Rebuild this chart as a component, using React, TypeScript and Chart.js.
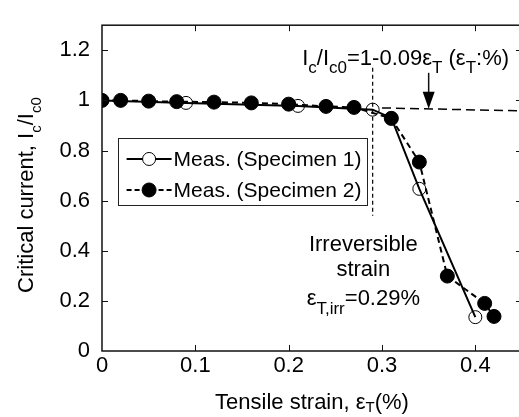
import React, { useEffect, useRef } from "react";
import { Chart, registerables } from "chart.js";
Chart.register(...registerables);

// ---- data ----
const spec1X = [0, 0.09, 0.21, 0.29, 0.31, 0.34, 0.4];
const spec1Y = [1.0, 0.99, 0.978, 0.963, 0.93, 0.647, 0.135];
const spec2X = [0, 0.02, 0.05, 0.08, 0.12, 0.16, 0.2, 0.24, 0.27, 0.31, 0.34, 0.37, 0.41, 0.42];
const spec2Y = [1.0, 1.0, 0.997, 0.995, 0.993, 0.99, 0.985, 0.976, 0.972, 0.928, 0.754, 0.299, 0.19, 0.138];
const fitX = [0.3, 0.45];
const fitY = [0.97, 0.958];
const irrX = [0.29, 0.29];
const irrY = [1.13, 0.54];
const xTicks = [0, 0.1, 0.2, 0.3, 0.4];
const yTicks = [0, 0.2, 0.4, 0.6, 0.8, 1, 1.2];
const seriesLabels = ["Meas. (Specimen 1)", "Meas. (Specimen 2)"];
const arrowX = 0.35;
const arrowTopY = 1.11;
const arrowTipY = 0.967;

const FAMILY = "'Liberation Sans', Arial, sans-serif";
const MAIN = `22px ${FAMILY}`;
const SUB = `15px ${FAMILY}`;
const SUB_BIG = `17px ${FAMILY}`;

type Seg = { t: string; sub?: boolean };

function drawRich(
  ctx: CanvasRenderingContext2D,
  segs: Seg[],
  x: number,
  y: number,
  align: "left" | "center",
  subDy: number,
  mainFont = MAIN,
  subFont = SUB
) {
  const widths = segs.map((s) => {
    ctx.font = s.sub ? subFont : mainFont;
    return ctx.measureText(s.t).width;
  });
  const total = widths.reduce((a, b) => a + b, 0);
  let cx = align === "center" ? x - total / 2 : x;
  ctx.textAlign = "left";
  ctx.textBaseline = "alphabetic";
  segs.forEach((s, i) => {
    ctx.font = s.sub ? subFont : mainFont;
    ctx.fillText(s.t, cx, y + (s.sub ? subDy : 0));
    cx += widths[i];
  });
}

const decorPlugin = {
  id: "decor",
  afterDraw(chart: any) {
    const ctx: CanvasRenderingContext2D = chart.ctx;
    const { left, right, top, bottom } = chart.chartArea;
    const xs = chart.scales.x;
    const ys = chart.scales.y;
    ctx.save();
    ctx.fillStyle = "#000";
    ctx.strokeStyle = "#111";

    // frame
    ctx.lineWidth = 1.5;
    ctx.strokeRect(left, top, right - left, bottom - top);

    // inward ticks
    ctx.lineWidth = 1;
    const tl = 6;
    xTicks.forEach((v) => {
      const px = Math.round(xs.getPixelForValue(v)) + 0.5;
      if (px <= left + 1) return;
      ctx.beginPath();
      ctx.moveTo(px, bottom);
      ctx.lineTo(px, bottom - tl);
      ctx.moveTo(px, top);
      ctx.lineTo(px, top + tl);
      ctx.stroke();
    });
    yTicks.forEach((v) => {
      const py = Math.round(ys.getPixelForValue(v)) + 0.5;
      if (py >= bottom - 1) return;
      ctx.beginPath();
      ctx.moveTo(left, py);
      ctx.lineTo(left + tl, py);
      ctx.moveTo(right, py);
      ctx.lineTo(right - tl, py);
      ctx.stroke();
    });

    // arrow
    const ax = xs.getPixelForValue(arrowX);
    const aTop = ys.getPixelForValue(arrowTopY);
    const aTip = ys.getPixelForValue(arrowTipY);
    ctx.lineWidth = 1.5;
    ctx.beginPath();
    ctx.moveTo(ax, aTop);
    ctx.lineTo(ax, aTip - 14);
    ctx.stroke();
    ctx.beginPath();
    ctx.moveTo(ax - 6, aTip - 17);
    ctx.lineTo(ax + 6, aTip - 17);
    ctx.lineTo(ax, aTip);
    ctx.closePath();
    ctx.fill();

    // formula annotation
    drawRich(
      ctx,
      [
        { t: "I" },
        { t: "c", sub: true },
        { t: "/I" },
        { t: "c0", sub: true },
        { t: "=1-0.09ε" },
        { t: "T", sub: true },
        { t: " (ε" },
        { t: "T", sub: true },
        { t: ":%)" },
      ],
      xs.getPixelForValue(0.2145),
      ys.getPixelForValue(1.142),
      "left",
      8,
      MAIN,
      SUB_BIG
    );

    // irreversible strain annotation
    const cxIrr = xs.getPixelForValue(0.28);
    ctx.font = MAIN;
    ctx.textAlign = "center";
    ctx.textBaseline = "alphabetic";
    ctx.fillText("Irreversible", cxIrr, ys.getPixelForValue(0.401));
    ctx.fillText("strain", cxIrr, ys.getPixelForValue(0.298));
    drawRich(
      ctx,
      [{ t: "ε" }, { t: "T,irr", sub: true }, { t: "=0.29%" }],
      cxIrr,
      ys.getPixelForValue(0.185),
      "center",
      9,
      MAIN,
      SUB_BIG
    );

    // legend
    const ds = chart.data.datasets;
    const bx1 = xs.getPixelForValue(0.0167);
    const bx2 = xs.getPixelForValue(0.283);
    const by1 = ys.getPixelForValue(0.85);
    const by2 = ys.getPixelForValue(0.581);
    ctx.fillStyle = "#fff";
    ctx.fillRect(bx1, by1, bx2 - bx1, by2 - by1);
    ctx.strokeStyle = "#222";
    ctx.lineWidth = 1;
    ctx.strokeRect(Math.round(bx1) + 0.5, Math.round(by1) + 0.5, Math.round(bx2 - bx1), Math.round(by2 - by1));
    const rows = [by1 + 21, by1 + 52];
    [0, 1].forEach((i) => {
      const d = ds[i];
      const ry = rows[i];
      const l1 = bx1 + 9;
      const l2 = bx1 + 54;
      const mid = (l1 + l2) / 2;
      ctx.strokeStyle = "#000";
      ctx.lineWidth = d.borderWidth;
      ctx.setLineDash(i === 1 ? [5, 3] : []);
      ctx.beginPath();
      ctx.moveTo(l1, ry);
      ctx.lineTo(l2, ry);
      ctx.stroke();
      ctx.setLineDash([]);
      ctx.beginPath();
      ctx.arc(mid, ry, d.pointRadius, 0, Math.PI * 2);
      ctx.fillStyle = i === 1 ? "#000" : "#fff";
      ctx.fill();
      ctx.lineWidth = 1;
      ctx.stroke();
      ctx.fillStyle = "#000";
      ctx.font = `21px ${FAMILY}`;
      ctx.textAlign = "left";
      ctx.textBaseline = "middle";
      ctx.fillText(seriesLabels[i], l2 + 2, ry + 1);
    });

    // axis titles
    ctx.fillStyle = "#000";
    drawRich(
      ctx,
      [{ t: "Tensile strain, ε" }, { t: "T", sub: true }, { t: "(%)" }],
      (left + right) / 2,
      409,
      "center",
      3
    );
    ctx.translate(33, (top + bottom) / 2 + 7);
    ctx.rotate(-Math.PI / 2);
    drawRich(
      ctx,
      [{ t: "Critical current, I" }, { t: "c", sub: true }, { t: "/I" }, { t: "c0", sub: true }],
      0,
      0,
      "center",
      8
    );
    ctx.restore();
  },
};

export default function App() {
  const ref = useRef<HTMLCanvasElement | null>(null);
  useEffect(() => {
    if (!ref.current) return;
    const tickFont = { family: FAMILY, size: 22 };
    const chart = new Chart(ref.current, {
      type: "scatter",
      data: {
        datasets: [
          {
            label: seriesLabels[0],
            data: spec1X.map((x, i) => ({ x, y: spec1Y[i] })),
            showLine: true,
            borderColor: "#000",
            borderWidth: 2,
            pointRadius: 6.5,
            pointHoverRadius: 6.5,
            pointBackgroundColor: "rgba(255,255,255,0)",
            pointBorderColor: "#000",
            pointBorderWidth: 1,
            order: 2,
          },
          {
            label: seriesLabels[1],
            data: spec2X.map((x, i) => ({ x, y: spec2Y[i] })),
            showLine: true,
            borderColor: "#000",
            borderWidth: 2,
            borderDash: [6, 4],
            pointRadius: 7,
            pointHoverRadius: 7,
            pointBackgroundColor: "#000",
            pointBorderColor: "#000",
            pointBorderWidth: 1,
            order: 1,
          },
          {
            label: "fit",
            data: fitX.map((x, i) => ({ x, y: fitY[i] })),
            showLine: true,
            borderColor: "#000",
            borderWidth: 1.5,
            borderDash: [9, 5],
            pointRadius: 0,
            order: 3,
          },
          {
            label: "irr",
            data: irrX.map((x, i) => ({ x, y: irrY[i] })),
            showLine: true,
            borderColor: "#000",
            borderWidth: 1.2,
            borderDash: [4, 3],
            pointRadius: 0,
            order: 3,
          },
        ],
      },
      options: {
        animation: false,
        responsive: false,
        events: [],
        layout: { padding: { top: 13, right: 5, left: 0, bottom: 0 } },
        plugins: { legend: { display: false }, tooltip: { enabled: false } },
        scales: {
          x: {
            type: "linear",
            min: 0,
            max: 0.45,
            afterBuildTicks: (s: any) => {
              s.ticks = xTicks.map((v) => ({ value: v }));
            },
            afterFit: (s: any) => {
              s.height = 66;
            },
            grid: { display: false, drawTicks: false },
            border: { display: false },
            ticks: {
              font: tickFont,
              color: "#000",
              padding: 2,
              maxRotation: 0,
              autoSkip: false,
              callback: (v: any) => String(v),
            },
          },
          y: {
            type: "linear",
            min: 0,
            max: 1.3,
            afterBuildTicks: (s: any) => {
              s.ticks = yTicks.map((v) => ({ value: v }));
            },
            afterFit: (s: any) => {
              s.width = 102;
            },
            grid: { display: false, drawTicks: false },
            border: { display: false },
            ticks: {
              font: tickFont,
              color: "#000",
              padding: 12,
              autoSkip: false,
              callback: (v: any) => String(v),
            },
          },
        },
      },
      plugins: [decorPlugin],
    });
    return () => chart.destroy();
  }, []);
  return (
    <div
      style={{
        position: "fixed",
        left: 0,
        top: 0,
        width: 519,
        height: 417,
        overflow: "hidden",
        background: "#fff",
      }}
    >
      <canvas ref={ref} width={530} height={417} style={{ width: 530, height: 417, display: "block" }} />
    </div>
  );
}
